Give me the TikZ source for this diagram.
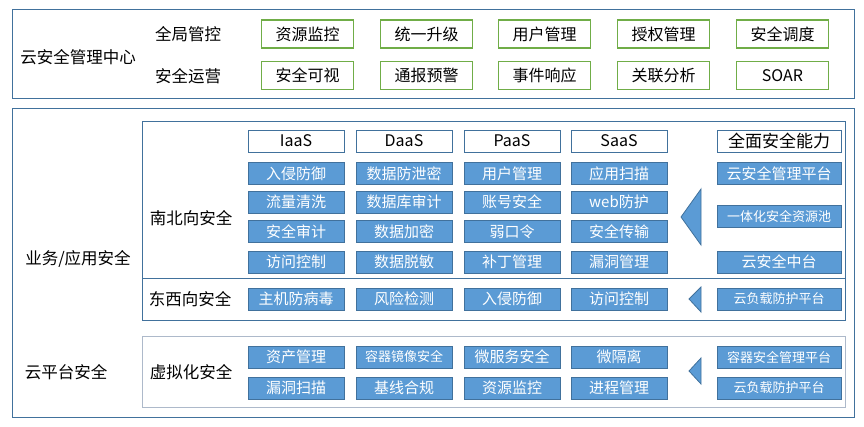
\documentclass[tikz,border=0pt]{standalone}
\usepackage{fontspec}
\setmainfont{Noto Sans CJK SC}
\definecolor{boxblue}{HTML}{5B9BD5}
\definecolor{lineblue}{HTML}{41719C}
\definecolor{linegreen}{HTML}{70AD47}
\definecolor{linegrey}{HTML}{ADB9CA}

\begin{document}
\begin{tikzpicture}[x=1pt, y=-1pt]
\useasboundingbox (0,0) rectangle (864,427);

% frames
\begin{scope}[lineblue, line width=1pt]
    \draw (12,10) rectangle (854,99);
    \draw (12,109) rectangle (854,417);
    \draw (142,122) rectangle (845,321);
    \draw (142,279) -- (845,279);
    \draw[linegrey] (142,336) rectangle (845,407);
\end{scope}

% plain labels
\begin{scope}[every node/.style={inner sep=0, font=\fontsize{16.5}{18}\selectfont}]
    \node (center) at (78,57) {云安全管理中心};
    \node (global) at (188,34) {全局管控};
    \node (ops) at (188,76) {安全运营};
    \node (biz) at (78,259) {业务/应用安全};
    \node (plat) at (66,372) {云平台安全};
    \node (ns) at (191,218) {南北向安全};
    \node (ew) at (190,299) {东西向安全};
    \node (virt) at (191,372) {虚拟化安全};
\end{scope}

% management center
\begin{scope}[every node/.style={draw=linegreen, line width=1.3pt, inner sep=0,
        minimum width=92pt, minimum height=28pt, font=\fontsize{16}{18}\selectfont}]
    \node (g1) at (307.5,34) {资源监控};
    \node (g2) at (426.5,34) {统一升级};
    \node (g3) at (544.5,34) {用户管理};
    \node (g4) at (663.5,34) {授权管理};
    \node (g5) at (782.5,34) {安全调度};
    \node (o1) at (307.5,75.5) {安全可视};
    \node (o2) at (426.5,75.5) {通报预警};
    \node (o3) at (544.5,75.5) {事件响应};
    \node (o4) at (663.5,75.5) {关联分析};
    \node (o5) at (782.5,75.5) {SOAR};
\end{scope}

% column heads
\begin{scope}[every node/.style={draw=lineblue, line width=0.8pt, inner sep=0,
        minimum width=96pt, minimum height=22pt, font=\fontsize{16}{18}\selectfont}]
    \node (iaas) at (296,141) {IaaS};
    \node (daas) at (404,141) {DaaS};
    \node (paas) at (512,141) {PaaS};
    \node (saas) at (619,141) {SaaS};
    \node[minimum width=124pt, font=\fontsize{17}{18}\selectfont] (ability) at (779,141) {全面安全能力};
\end{scope}

% blue items
\begin{scope}[every node/.style={fill=boxblue, draw=lineblue, line width=0.8pt, text=white, inner sep=0,
        minimum width=96pt, minimum height=22pt, font=\fontsize{15}{17}\selectfont}]
    \node (iaas1) at (296,173.5) {入侵防御};
    \node (iaas2) at (296,202) {流量清洗};
    \node (iaas3) at (296,231.5) {安全审计};
    \node (iaas4) at (296,262) {访问控制};
    \node (daas1) at (404,173.5) {数据防泄密};
    \node (daas2) at (404,202) {数据库审计};
    \node (daas3) at (404,231.5) {数据加密};
    \node (daas4) at (404,262) {数据脱敏};
    \node (paas1) at (512,173.5) {用户管理};
    \node (paas2) at (512,202) {账号安全};
    \node (paas3) at (512,231.5) {弱口令};
    \node (paas4) at (512,262) {补丁管理};
    \node (saas1) at (619,173.5) {应用扫描};
    \node (saas2) at (619,202) {web防护};
    \node (saas3) at (619,231.5) {安全传输};
    \node (saas4) at (619,262) {漏洞管理};
    \node (ew1) at (296,299) {主机防病毒};
    \node (ew2) at (404,299) {风险检测};
    \node (ew3) at (512,299) {入侵防御};
    \node (ew4) at (619,299) {访问控制};
    \node (vm1) at (296,357) {资产管理};
    \node[font=\fontsize{13}{15}\selectfont] (vm2) at (404,357) {容器镜像安全};
    \node (vm3) at (512,357) {微服务安全};
    \node (vm4) at (619,357) {微隔离};
    \node (vm5) at (296,388) {漏洞扫描};
    \node (vm6) at (404,388) {基线合规};
    \node (vm7) at (512,388) {资源监控};
    \node (vm8) at (619,388) {进程管理};
\end{scope}

% platforms
\begin{scope}[every node/.style={fill=boxblue, draw=lineblue, line width=0.8pt, text=white, inner sep=0,
        minimum width=124pt, minimum height=22pt, font=\fontsize{13}{15}\selectfont}]
    \node[font=\fontsize{15}{17}\selectfont] (mgmt) at (779,173.5) {云安全管理平台};
    \node (pool) at (779,216.5) {一体化安全资源池};
    \node[font=\fontsize{15}{17}\selectfont] (mid) at (779,262) {云安全中台};
    \node (loadew) at (779,299) {云负载防护平台};
    \node (ctrmgmt) at (779,357) {容器安全管理平台};
    \node (loadvm) at (779,388) {云负载防护平台};
\end{scope}

% pointers
\begin{scope}[fill=boxblue, draw=lineblue, line width=0.8pt]
    \filldraw (701,189) -- (681,217) -- (701,245) -- cycle;
    \filldraw (701,287) -- (689,299) -- (701,312) -- cycle;
    \filldraw (701,358) -- (689,371) -- (701,384) -- cycle;
\end{scope}

\end{tikzpicture}
\end{document}
